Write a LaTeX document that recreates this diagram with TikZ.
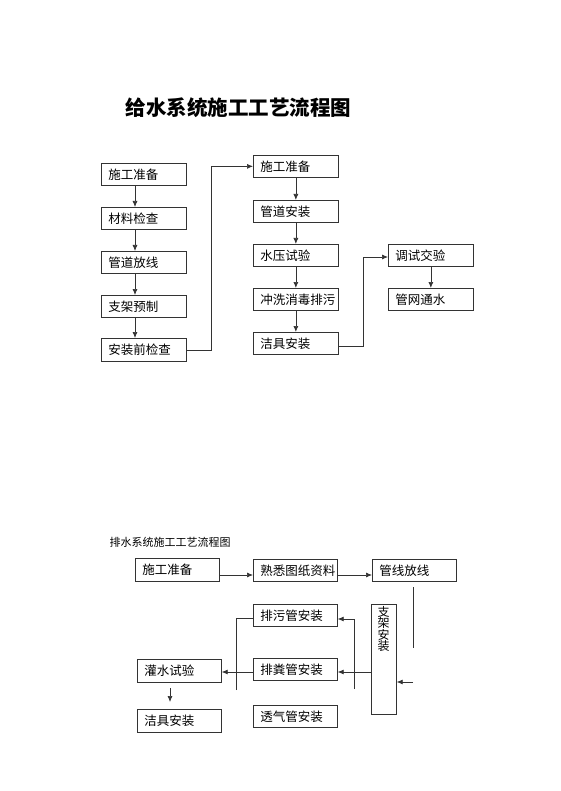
\documentclass[tikz,border=0pt]{standalone}
\usepackage{fontspec}
\setmainfont{Noto Sans CJK SC}
\usetikzlibrary{arrows.meta}
\begin{document}
\begin{tikzpicture}[x=1pt,y=-1pt,
  box/.style={draw=black!80, line width=0.7pt, anchor=north west, minimum width=85pt, minimum height=22pt,
    inner xsep=7pt, inner ysep=0pt, text width=71pt, align=left, font=\fontsize{12.5}{13}\selectfont},
  arr/.style={draw=black!80, line width=0.7pt, -{Latex[length=6pt,width=5pt]}},
  ln/.style={draw=black!80, line width=0.7pt}]
\path[use as bounding box] (0,0) rectangle (560,791);

% top title
\node[font=\fontsize{20.5}{22}\selectfont\bfseries] (t1) at (238.5,108) {给水系统施工工艺流程图};

% left column
\node[box] (L1) at (101,163) {施工准备};
\node[box] (L2) at (101,207) {材料检查};
\node[box] (L3) at (101,251) {管道放线};
\node[box] (L4) at (101,295) {支架预制};
\node[box, minimum height=23pt] (L5) at (101,338) {安装前检查};
% middle column
\node[box] (M1) at (253,155) {施工准备};
\node[box] (M2) at (253,200) {管道安装};
\node[box] (M3) at (253,244) {水压试验};
\node[box] (M4) at (253,288) {冲洗消毒排污};
\node[box] (M5) at (253,332) {洁具安装};
% right column
\node[box] (R1) at (388,244) {调试交验};
\node[box] (R2) at (388,288) {管网通水};

\draw[arr] (L1.south -| 135,0) -- (L2.north -| 135,0);
\draw[arr] (L2.south -| 135,0) -- (L3.north -| 135,0);
\draw[arr] (L3.south -| 135,0) -- (L4.north -| 135,0);
\draw[arr] (L4.south -| 135,0) -- (L5.north -| 135,0);
\draw[arr] (L5.east) -- ++(25,0) |- (M1.west);

\draw[arr] (M1.south) -- (M2.north);
\draw[arr] (M2.south) -- (M3.north);
\draw[arr] (M3.south) -- (M4.north);
\draw[arr] (M4.south) -- (M5.north);
\draw[arr] (M5.east |- 0,346) -- (363,346) |- (R1.west |- 0,257);
\draw[arr] (R1.south) -- (R2.north);

% bottom section
\node[anchor=west, font=\fontsize{11}{12}\selectfont] (t2) at (106,542) {排水系统施工工艺流程图};

\node[box, minimum width=84pt, text width=70pt, minimum height=23pt] (B1) at (135,558) {施工准备};
\node[box, minimum width=84pt, text width=70pt] (B2) at (253,559) {熟悉图纸资料};
\node[box, minimum width=84pt, text width=70pt] (B3) at (372,559) {管线放线};
\node[box, minimum width=84pt, text width=70pt] (P1) at (253,604) {排污管安装};
\node[box, minimum width=84pt, text width=70pt] (P2) at (253,658) {排粪管安装};
\node[box, minimum width=84pt, text width=70pt] (P3) at (253,705) {透气管安装};
\node[box, minimum width=84pt, text width=70pt, minimum height=23pt] (G1) at (137,659) {灌水试验};
\node[box, minimum width=84pt, text width=70pt, minimum height=23pt] (G2) at (137,709) {洁具安装};
\node[draw=black!80, line width=0.7pt, anchor=north west, minimum width=25pt, minimum height=110pt, inner sep=0pt] (Z) at (371,604) {};
\node[anchor=north, align=center, inner sep=0pt, font=\fontsize{12}{11.5}\selectfont] (Zt) at (383.5,606) {支\\架\\安\\装};

\coordinate (fa) at (413,587);
\coordinate (fb) at (413,648);
\coordinate (fc) at (413,682);
\coordinate (fd) at (354,689);
\coordinate (fe) at (236,690);
\coordinate (ff) at (170,688);
\coordinate (fg) at (170,702);

\draw[arr] (B1.east |- 0,575) -- (B2.west |- 0,575);
\draw[arr] (B2.east |- 0,575) -- (B3.west |- 0,575);
\draw[ln] (fa) -- (fb);
\draw[arr] (fc) -- (Z.east |- fc);
\draw[arr] (Z.west |- 0,672) -- (P2.east |- 0,672);
\draw[arr] (fd) |- (P1.east |- 0,619);
\draw[ln] (fe) |- (P1.west |- 0,618);
\draw[arr] (P2.west |- 0,672) -- (G1.east |- 0,672);
\draw[arr] (ff) -- (fg);
\end{tikzpicture}
\end{document}
